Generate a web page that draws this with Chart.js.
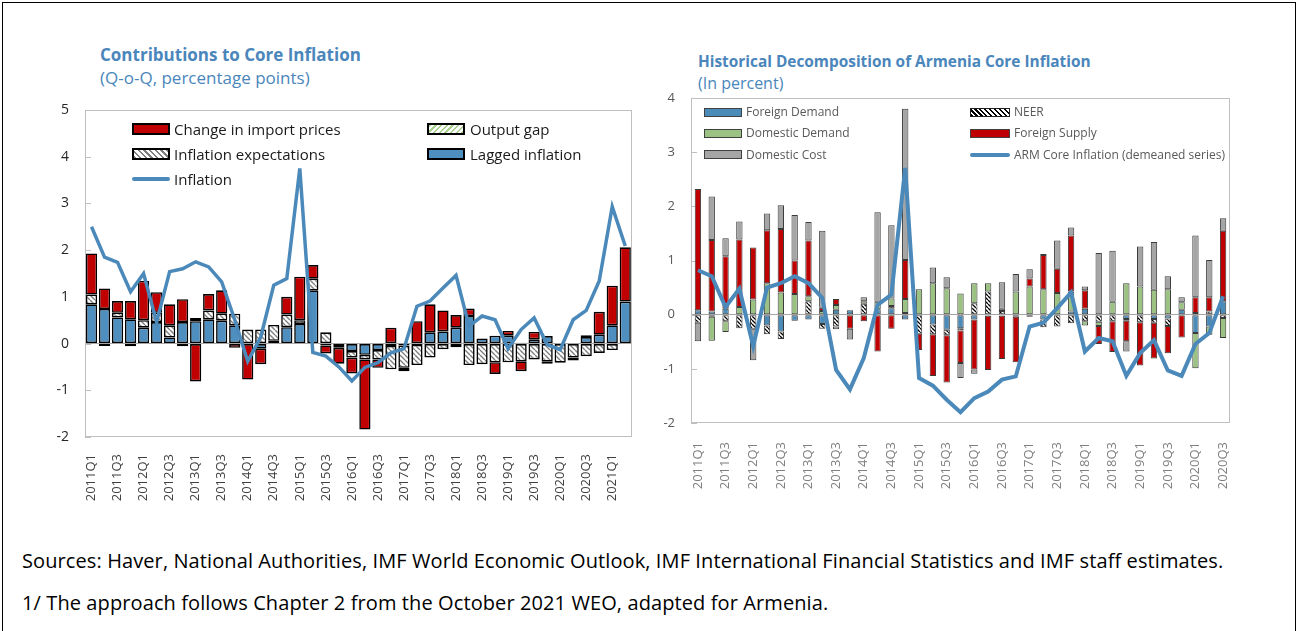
<!DOCTYPE html>
<html>
<head>
<meta charset="utf-8">
<script src="https://cdn.jsdelivr.net/npm/chart.js@4.4.1/dist/chart.umd.min.js"></script>
<style>
html,body{margin:0;padding:0;background:#fff;}
body{width:1300px;height:631px;position:relative;overflow:hidden;font-family:'Open Sans','Noto Sans',sans-serif;}
.abs{position:absolute;white-space:nowrap;}
#frame{position:absolute;left:2px;top:2px;width:1294px;height:700px;border:1px solid #000;box-sizing:border-box;}
.title{font-weight:bold;color:#4a86bb;}
.sub{color:#4a86bb;}
.lt{font-size:15px;line-height:20px;color:#1a1a1a;}
.rt{font-size:12px;line-height:16px;color:#595959;}
.sw{position:absolute;box-sizing:border-box;}
.note{font-size:20px;line-height:26px;color:#000;letter-spacing:0.1px;}
canvas{position:absolute;}
</style>
</head>
<body>
<div id="frame"></div>

<div class="abs title" style="left:100px;top:43px;font-size:17px;line-height:24px;">Contributions to Core Inflation</div>
<div class="abs sub" style="left:100px;top:66px;font-size:17px;line-height:24px;">(Q-o-Q, percentage points)</div>
<div class="abs title" style="left:698px;top:50px;font-size:15.4px;line-height:23px;">Historical Decomposition of Armenia Core Inflation</div>
<div class="abs sub" style="left:698px;top:72px;font-size:16px;line-height:23px;">(In percent)</div>

<canvas id="left" width="650" height="540" style="left:0;top:0;"></canvas>
<canvas id="right" width="650" height="540" style="left:640px;top:0;"></canvas>

<!-- left legend -->
<div class="sw" style="left:132px;top:123px;width:38px;height:12px;background:#c00000;border:2px solid #000;"></div>
<div class="abs lt" style="left:174px;top:119px;">Change in import prices</div>
<div class="sw" style="left:132px;top:148px;width:38px;height:12px;border:2px solid #000;background:repeating-linear-gradient(45deg,#7f7f7f 0px,#7f7f7f 1.5px,#fff 1.5px,#fff 4px);"></div>
<div class="abs lt" style="left:174px;top:144px;">Inflation expectations</div>
<div class="sw" style="left:132px;top:177px;width:38px;height:4px;background:#4a89b9;border-radius:2px;"></div>
<div class="abs lt" style="left:174px;top:169px;">Inflation</div>
<div class="sw" style="left:427px;top:123px;width:38px;height:12px;border:2px solid #000;background:repeating-linear-gradient(-45deg,#a9d18e 0px,#a9d18e 1.5px,#fff 1.5px,#fff 4px);"></div>
<div class="abs lt" style="left:470px;top:119px;">Output gap</div>
<div class="sw" style="left:427px;top:148px;width:38px;height:12px;background:#4f8fbf;border:2px solid #000;"></div>
<div class="abs lt" style="left:470px;top:144px;">Lagged inflation</div>

<!-- right legend -->
<div class="sw" style="left:704px;top:108px;width:38px;height:9px;background:#4a8bb8;border:1px solid #404040;"></div>
<div class="abs rt" style="left:746px;top:104px;">Foreign Demand</div>
<div class="sw" style="left:704px;top:129px;width:38px;height:9px;background:#9bc283;border:1px solid #404040;"></div>
<div class="abs rt" style="left:746px;top:125px;">Domestic Demand</div>
<div class="sw" style="left:704px;top:150px;width:38px;height:9px;background:#a5a5a5;border:1px solid #404040;"></div>
<div class="abs rt" style="left:746px;top:147px;">Domestic Cost</div>
<div class="sw" style="left:970px;top:108px;width:40px;height:9px;border:1px solid #202020;background:repeating-linear-gradient(45deg,#000 0px,#000 1.5px,#fff 1.5px,#fff 3.5px);"></div>
<div class="abs rt" style="left:1014px;top:104px;">NEER</div>
<div class="sw" style="left:970px;top:129px;width:40px;height:9px;background:#c00000;border:1px solid #404040;"></div>
<div class="abs rt" style="left:1014px;top:125px;">Foreign Supply</div>
<div class="sw" style="left:970px;top:153px;width:40px;height:4px;background:#4a89b9;border-radius:2px;"></div>
<div class="abs rt" style="left:1014px;top:147px;">ARM Core Inflation (demeaned series)</div>

<div class="abs note" style="left:22px;top:548px;">Sources: Haver, National Authorities, IMF World Economic Outlook, IMF International Financial Statistics and IMF staff estimates.</div>
<div class="abs note" style="left:22px;top:590px;">1/ The approach follows Chapter 2 from the October 2021 WEO, adapted for Armenia.</div>

<script>
// ---------- DATA: left panel ----------
const leftCategories = ['2011Q1','2011Q2','2011Q3','2011Q4','2012Q1','2012Q2','2012Q3','2012Q4','2013Q1','2013Q2','2013Q3','2013Q4','2014Q1','2014Q2','2014Q3','2014Q4','2015Q1','2015Q2','2015Q3','2015Q4','2016Q1','2016Q2','2016Q3','2016Q4','2017Q1','2017Q2','2017Q3','2017Q4','2018Q1','2018Q2','2018Q3','2018Q4','2019Q1','2019Q2','2019Q3','2019Q4','2020Q1','2020Q2','2020Q3','2020Q4','2021Q1','2021Q2'];
const laggedInflation = [0.84,0.74,0.56,0.52,0.34,0.46,0.13,0.46,0.48,0.52,0.49,0.39,0,-0.11,0.06,0.35,0.42,1.14,-0.04,-0.05,-0.16,-0.24,-0.14,-0.05,-0.04,-0.03,0.24,0.26,0.34,0.59,0.11,0.17,0.17,0.02,0.09,0.16,0,0,0.14,0.19,0.39,0.90];
const inflationExpectations = [0.21,-0.05,0.10,-0.06,0.16,0.20,0.26,-0.06,0.07,0.19,0.15,0.25,0.30,0.30,0.34,0.27,0.08,0.25,0.24,-0.04,-0.14,-0.10,-0.20,-0.50,-0.48,-0.43,-0.30,-0.12,-0.08,-0.46,-0.44,-0.40,-0.40,-0.38,-0.34,-0.38,-0.41,-0.30,-0.27,-0.20,-0.14,0];
const outputGap = [0,0,0,0,0,0,0,0,0,0,0,0,0,0,0,0,0,0,0,0,0,0,0,0,0,0,0,0,0,0,0,0,0,0,0,0,0,0,0,0,0,0];
const importPrices = [0.88,0.44,0.25,0.39,0.84,0.44,0.45,0.49,-0.81,0.35,0.50,-0.09,-0.77,-0.33,0,0.38,0.93,0.29,-0.17,-0.34,-0.34,-1.50,-0.18,0.34,-0.07,0.48,0.60,0.45,0.27,0.16,0,-0.25,0.10,-0.21,0.16,-0.05,0,-0.06,0.04,0.49,0.85,1.16];
const inflation = [2.50,1.85,1.74,1.11,1.50,0.46,1.54,1.60,1.75,1.64,1.32,0.51,-0.38,0.14,1.25,1.39,3.75,-0.19,-0.27,-0.50,-0.80,-0.51,-0.41,-0.20,-0.11,0.80,0.91,1.19,1.46,0.37,0.59,0.51,-0.11,0.30,0.55,-0.02,-0.13,0.51,0.71,1.34,2.93,2.09];
const leftYRange = [-2, 5];

// ---------- DATA: right panel ----------
const rightCategories = ['2011Q1','2011Q2','2011Q3','2011Q4','2012Q1','2012Q2','2012Q3','2012Q4','2013Q1','2013Q2','2013Q3','2013Q4','2014Q1','2014Q2','2014Q3','2014Q4','2015Q1','2015Q2','2015Q3','2015Q4','2016Q1','2016Q2','2016Q3','2016Q4','2017Q1','2017Q2','2017Q3','2017Q4','2018Q1','2018Q2','2018Q3','2018Q4','2019Q1','2019Q2','2019Q3','2019Q4','2020Q1','2020Q2','2020Q3'];
const foreignDemand = [0.08,0.06,0.11,0,0,-0.20,-0.31,-0.11,-0.09,-0.17,0.09,0.08,0,0.10,0.12,-0.09,0,-0.18,-0.28,-0.25,-0.09,-0.02,-0.02,0,0,-0.09,0,0.06,0.11,0,0,-0.08,0,-0.08,-0.07,0.09,-0.34,-0.22,0.25];
const neer = [-0.15,-0.04,-0.12,-0.25,-0.26,-0.16,-0.14,0,0.25,-0.09,-0.22,0,0.20,0,0.04,0.03,-0.35,-0.18,-0.10,-0.04,0.21,0.43,0.07,-0.04,-0.04,-0.14,-0.22,-0.16,-0.12,-0.13,-0.12,-0.03,-0.14,-0.07,-0.14,0,0.03,0.06,-0.06];
const domesticDemand = [0,-0.44,-0.20,0.14,0.28,0.58,0.41,0.38,0.09,0.07,0.09,0,0.05,0.14,0.14,0.26,0.47,0.58,0.49,0.39,0.37,0.15,0.04,0.43,0.52,0.47,0.40,0.37,-0.08,-0.08,0.24,0.58,0.52,0.46,0.47,0.14,-0.65,-0.15,-0.37];
const foreignSupply = [2.24,1.32,0.97,1.25,0.96,0.98,1.17,0.62,1.03,0.06,0.11,-0.26,-0.12,-0.68,-0.26,0.72,-0.30,-0.77,-0.87,-0.60,-0.92,-1.00,-0.80,-0.84,0.15,0.63,0.45,1.03,0.34,-0.33,-0.57,-0.38,-0.80,-0.66,-0.50,-0.42,0.29,0.26,1.30];
const domesticCost = [-0.34,0.80,0.33,0.33,-0.58,0.31,0.44,0.84,0.34,1.42,-0.05,-0.20,0.07,1.65,1.35,2.79,0,0.29,0.20,-0.28,-0.08,0,0.49,0.32,0.17,0.02,0.52,0.15,0.07,1.14,0.94,-0.19,0.74,0.88,0.24,0.09,1.14,0.69,0.23];
const armCoreInflation = [0.82,0.71,0.14,0.48,-0.58,0.50,0.58,0.71,0.58,0.31,-1.02,-1.38,-0.80,0.18,0.37,2.71,-1.17,-1.31,-1.57,-1.80,-1.54,-1.42,-1.20,-1.14,-0.22,-0.15,0.12,0.41,-0.68,-0.43,-0.49,-1.13,-0.71,-0.47,-1.03,-1.13,-0.54,-0.34,0.34];
const rightYRange = [-2, 4];

// ---------- helpers ----------
const nz = arr => arr.map(v => v === 0 ? null : v);
function hatch(fg, bg, size, lw, dir) {
  const c = document.createElement('canvas');
  c.width = size; c.height = size;
  const x = c.getContext('2d');
  x.fillStyle = bg; x.fillRect(0, 0, size, size);
  x.strokeStyle = fg; x.lineWidth = lw; x.beginPath();
  for (let k = -1; k <= 2; k++) {
    if (dir === 'back') { x.moveTo(0, k * size); x.lineTo(size, k * size + size); }
    else { x.moveTo(0, k * size); x.lineTo(size, k * size - size); }
  }
  x.stroke();
  return x.createPattern(c, 'repeat');
}

Chart.defaults.font.family = "'Open Sans','Noto Sans',sans-serif";
Chart.defaults.animation = false;

const framePlugin = {
  id: 'frame',
  beforeDatasetsDraw(chart) {
    const {ctx, chartArea: a} = chart;
    ctx.save();
    ctx.strokeStyle = '#bfbfbf'; ctx.lineWidth = 1;
    ctx.strokeRect(Math.round(a.left) + 0.5, Math.round(a.top) + 0.5, Math.round(a.right - a.left) - 1, Math.round(a.bottom - a.top) - 1);
    const y = chart.scales.y;
    y.ticks.forEach(t => {
      const py = Math.round(y.getPixelForValue(t.value)) + 0.5;
      ctx.beginPath(); ctx.moveTo(a.left, py); ctx.lineTo(a.left + 6, py); ctx.stroke();
    });
    ctx.restore();
  }
};

function xScale(color, pad) {
  return {
    stacked: true,
    grid: {display: false},
    border: {display: false},
    ticks: {
      autoSkip: false, minRotation: 90, maxRotation: 90, padding: pad,
      color: color, font: {size: 13},
      callback: function(v, i) { return i % 2 === 0 ? this.getLabelForValue(v) : ''; }
    },
    afterFit: s => { s.height = 80; }
  };
}
function yScale(range, color, size, w) {
  return {
    stacked: true, min: range[0], max: range[1],
    border: {display: false},
    grid: {drawTicks: false, lineWidth: 1, color: c => c.tick.value === 0 ? '#a6a6a6' : 'rgba(0,0,0,0)'},
    ticks: {stepSize: 1, padding: 16, color: color, font: {size: size}},
    afterFit: s => { s.width = w; }
  };
}

const lctx = document.getElementById('left').getContext('2d');
const patExp = hatch('#7f7f7f', '#ffffff', 5, 1.4, 'back');
const patGap = hatch('#a9d18e', '#ffffff', 5, 1.4, 'fwd');
const leftBar = {type: 'bar', stack: 'bars', order: 1, borderColor: '#000', borderWidth: 1.6, borderSkipped: false, barPercentage: 0.86, categoryPercentage: 1};
new Chart(lctx, {
  data: {
    labels: leftCategories,
    datasets: [
      {type: 'line', label: 'Inflation', data: inflation, stack: 'line', order: 0, borderColor: '#4a89b9', borderWidth: 3.5, pointRadius: 0, tension: 0, fill: false},
      Object.assign({label: 'Lagged inflation', data: nz(laggedInflation), backgroundColor: '#4f8fbf'}, leftBar),
      Object.assign({label: 'Inflation expectations', data: nz(inflationExpectations), backgroundColor: patExp}, leftBar),
      Object.assign({label: 'Output gap', data: nz(outputGap), backgroundColor: patGap}, leftBar),
      Object.assign({label: 'Change in import prices', data: nz(importPrices), backgroundColor: '#c00000'}, leftBar)
    ]
  },
  options: {
    responsive: false,
    layout: {padding: {left: 20, top: 110, right: 12, bottom: 23}},
    plugins: {legend: {display: false}, tooltip: {enabled: false}},
    scales: {x: xScale('#404040', 9), y: yScale(leftYRange, '#262626', 14, 65)}
  },
  plugins: [framePlugin]
});

const rctx = document.getElementById('right').getContext('2d');
const patNeer = hatch('#000000', '#ffffff', 4, 1.3, 'back');
const rightBar = {type: 'bar', stack: 'bars', order: 1, borderColor: '#3a3a3a', borderWidth: 1, borderSkipped: false, barPercentage: 0.46, categoryPercentage: 1};
new Chart(rctx, {
  data: {
    labels: rightCategories,
    datasets: [
      {type: 'line', label: 'ARM Core Inflation (demeaned series)', data: armCoreInflation, stack: 'line', order: 0, borderColor: '#4a89b9', borderWidth: 4, pointRadius: 0, tension: 0, fill: false},
      Object.assign({label: 'Foreign Demand', data: nz(foreignDemand), backgroundColor: '#4a8bb8'}, rightBar),
      Object.assign({label: 'NEER', data: nz(neer), backgroundColor: patNeer}, rightBar),
      Object.assign({label: 'Domestic Demand', data: nz(domesticDemand), backgroundColor: '#9bc283'}, rightBar),
      Object.assign({label: 'Foreign Supply', data: nz(foreignSupply), backgroundColor: '#c00000'}, rightBar),
      Object.assign({label: 'Domestic Cost', data: nz(domesticCost), backgroundColor: '#a5a5a5'}, rightBar)
    ]
  },
  options: {
    responsive: false,
    layout: {padding: {left: 6, top: 98, right: 60, bottom: 37}},
    plugins: {legend: {display: false}, tooltip: {enabled: false}},
    scales: {x: xScale('#7f7f7f', 11), y: yScale(rightYRange, '#595959', 13, 45)}
  },
  plugins: [framePlugin]
});
</script>
</body>
</html>
